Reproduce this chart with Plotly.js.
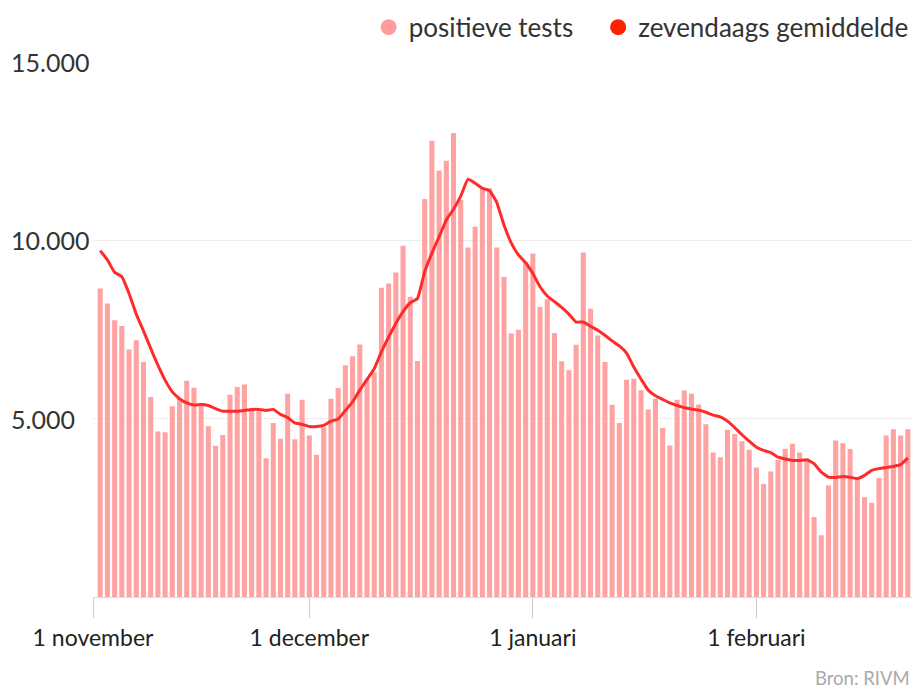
<!DOCTYPE html>
<html>
<head>
<meta charset="utf-8">
<script src="https://cdn.plot.ly/plotly-3.0.1.min.js"></script>
<style>
html,body{margin:0;padding:0;background:#fff;}
#chart{width:914px;height:689px;}
</style>
</head>
<body>
<div id="chart"></div>
<script>
// Dates (one per bar)
const dates = [
 '2020-11-02','2020-11-03','2020-11-04','2020-11-05','2020-11-06','2020-11-07','2020-11-08','2020-11-09','2020-11-10','2020-11-11',
 '2020-11-12','2020-11-13','2020-11-14','2020-11-15','2020-11-16','2020-11-17','2020-11-18','2020-11-19','2020-11-20','2020-11-21',
 '2020-11-22','2020-11-23','2020-11-24','2020-11-25','2020-11-26','2020-11-27','2020-11-28','2020-11-29','2020-11-30',
 '2020-12-01','2020-12-02','2020-12-03','2020-12-04','2020-12-05','2020-12-06','2020-12-07','2020-12-08','2020-12-09','2020-12-10',
 '2020-12-11','2020-12-12','2020-12-13','2020-12-14','2020-12-15','2020-12-16','2020-12-17','2020-12-18','2020-12-19','2020-12-20',
 '2020-12-21','2020-12-22','2020-12-23','2020-12-24','2020-12-25','2020-12-26','2020-12-27','2020-12-28','2020-12-29','2020-12-30','2020-12-31',
 '2021-01-01','2021-01-02','2021-01-03','2021-01-04','2021-01-05','2021-01-06','2021-01-07','2021-01-08','2021-01-09','2021-01-10',
 '2021-01-11','2021-01-12','2021-01-13','2021-01-14','2021-01-15','2021-01-16','2021-01-17','2021-01-18','2021-01-19','2021-01-20',
 '2021-01-21','2021-01-22','2021-01-23','2021-01-24','2021-01-25','2021-01-26','2021-01-27','2021-01-28','2021-01-29','2021-01-30','2021-01-31',
 '2021-02-01','2021-02-02','2021-02-03','2021-02-04','2021-02-05','2021-02-06','2021-02-07','2021-02-08','2021-02-09','2021-02-10',
 '2021-02-11','2021-02-12','2021-02-13','2021-02-14','2021-02-15','2021-02-16','2021-02-17','2021-02-18','2021-02-19','2021-02-20',
 '2021-02-21','2021-02-22'
];

// Positive tests per day
const positiveTests = [
 8650,8230,7760,7600,6940,7200,6590,5610,4640,4620,
 5350,5560,6060,5870,5420,4790,4240,4540,5670,5890,
 5960,5250,5200,3890,4880,4440,5700,4420,5530,
 4530,3990,4760,5560,5860,6500,6750,7080,6100,6300,
 8670,8790,9100,9850,8420,6620,11160,12790,11960,12230,
 13010,11130,9800,10380,11460,11460,9800,8970,7390,7490,9400,
 9630,8130,8350,7400,6610,6360,7070,9660,8080,7330,
 6590,5390,4880,6090,6120,5800,5260,5560,4740,4250,
 5530,5790,5700,5400,4840,4050,3920,4690,4570,4370,4130,
 3630,3170,3520,3840,4160,4300,4050,3830,2240,1730,
 3130,4390,4310,4150,3300,2800,2640,3340,4530,4700,
 4530,4700
];

// Seven-day average
const sevenDayAvg = [
 9710,9450,9100,8980,8510,7930,7460,6970,6500,6080,
 5750,5560,5440,5380,5400,5370,5280,5210,5205,5210,
 5230,5260,5260,5230,5260,5120,5030,4880,4840,
 4780,4780,4810,4930,4990,5230,5470,5800,6100,6400,
 6870,7290,7670,8000,8250,8370,9120,9640,10100,10570,
 10870,11240,11710,11600,11460,11390,11060,10430,9930,9590,9370,
 9070,8700,8440,8280,8120,7930,7710,7710,7590,7480,
 7340,7180,7040,6840,6450,6110,5800,5640,5540,5440,
 5370,5310,5270,5240,5180,5100,5050,4930,4750,4550,4370,
 4200,4110,4050,3920,3870,3830,3830,3850,3740,3500,
 3360,3350,3380,3360,3320,3410,3550,3600,3630,3660,
 3710,3900
];

// Axis ticks
const xTickVals = ['2020-11-01','2020-12-01','2021-01-01','2021-02-01'];
const xTickText = ['1 november','1 december','1 januari','1 februari'];
const yTickVals = [5000, 10000, 15000];
const yTickText = ['5.000','10.000','15.000'];

const seriesNames = ['positieve tests','zevendaags gemiddelde'];

const FONT = 'Lato, "Open Sans", sans-serif';
const barColor = '#ffa2a2';
const lineColor = '#ff2b2b';

const traces = [
  {type:'bar', x:dates, y:positiveTests, marker:{color:barColor}, showlegend:false, hoverinfo:'x+y'},
  {type:'scatter', mode:'lines', x:dates, y:sevenDayAvg, line:{color:lineColor, width:3, shape:'spline', smoothing:0.4}, showlegend:false},
  {type:'scatter', mode:'markers', x:[null], y:[null], name:seriesNames[0] + '\u00a0\u00a0\u00a0', marker:{color:'#ff9d9d', size:22, symbol:'circle'}},
  {type:'scatter', mode:'markers', x:[null], y:[null], name:seriesNames[1], marker:{color:'#ff2200', size:22, symbol:'circle'}}
];

const annotations = yTickVals.map((v,i)=>({
  xref:'paper', yref:'y', x:-0.102, y:v, xanchor:'left', yanchor:'middle',
  text:yTickText[i], showarrow:false, font:{family:FONT, size:25, color:'#333'}
}));
annotations.push({xref:'paper', yref:'paper', x:1.0, y:-0.152, xanchor:'right', yanchor:'middle',
  text:'Bron: RIVM', showarrow:false, font:{family:FONT, size:18.5, color:'#aaa'}});

const layout = {
  width:914, height:689,
  margin:{l:93, r:2, t:62, b:92, autoexpand:false},
  paper_bgcolor:'#fff', plot_bgcolor:'#fff',
  font:{family:FONT, color:'#333'},
  bargap:0.3,
  xaxis:{
    type:'date', range:['2020-11-01','2021-02-22 14:00'],
    tickvals:xTickVals, ticktext:xTickText,
    ticks:'outside', ticklen:20, tickwidth:1, tickcolor:'#ccc',
    showline:true, linecolor:'#ddd', linewidth:1,
    showgrid:false, zeroline:false,
    tickfont:{family:FONT, size:23, color:'#222'}
  },
  yaxis:{
    range:[0,15000], tickvals:yTickVals, showticklabels:false,
    showgrid:true, gridcolor:'#eeeeee', gridwidth:1.5, zeroline:false, showline:false
  },
  legend:{orientation:'h', x:1.002, xanchor:'right', y:1.065, yanchor:'middle',
    font:{family:FONT, size:26, color:'#333'}, bgcolor:'rgba(0,0,0,0)', itemwidth:30},
  annotations:annotations,
  showlegend:true
};

Plotly.newPlot('chart', traces, layout, {displayModeBar:false, staticPlot:true});
</script>
</body>
</html>
